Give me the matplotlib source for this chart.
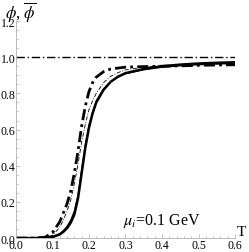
import numpy as np
import matplotlib
matplotlib.use("Agg")
import matplotlib.pyplot as plt
from matplotlib.ticker import MultipleLocator, FormatStrFormatter

# temperature grid (GeV)
T = [0.0, 0.05, 0.08, 0.10, 0.12, 0.13, 0.14, 0.15, 0.16, 0.17, 0.18, 0.19, 0.20,
     0.21, 0.22, 0.24, 0.26, 0.28, 0.30, 0.35, 0.40, 0.45, 0.50, 0.55, 0.60]

# thick solid
phi = [0.0, 0.0, 0.002, 0.006, 0.02, 0.035, 0.055, 0.085, 0.13, 0.22, 0.36, 0.50, 0.61,
       0.69, 0.75, 0.82, 0.865, 0.893, 0.912, 0.935, 0.950, 0.959, 0.965, 0.969, 0.972]
# thin solid
phibar = [0.0, 0.0, 0.003, 0.008, 0.025, 0.042, 0.065, 0.10, 0.15, 0.24, 0.38, 0.52, 0.625,
          0.70, 0.76, 0.825, 0.865, 0.89, 0.908, 0.93, 0.944, 0.952, 0.958, 0.962, 0.965]
# thick dash-dot
phi_dd = [0.0, 0.0, 0.005, 0.03, 0.09, 0.14, 0.19, 0.26, 0.36, 0.48, 0.62, 0.73, 0.81,
          0.86, 0.89, 0.92, 0.935, 0.94, 0.945, 0.948, 0.950, 0.952, 0.955, 0.957, 0.958]
# thin dash-dot
phibar_dd = [0.0, 0.0, 0.004, 0.015, 0.06, 0.10, 0.15, 0.21, 0.30, 0.41, 0.53, 0.63, 0.71,
             0.76, 0.80, 0.86, 0.895, 0.915, 0.93, 0.945, 0.952, 0.956, 0.96, 0.963, 0.965]

plt.rcParams['font.family'] = ['Liberation Serif', 'DejaVu Serif']
plt.rcParams['mathtext.fontset'] = 'stix'

fig = plt.figure(figsize=(2.49, 2.53), dpi=100)
ax = fig.add_axes([0.064, 0.055, 0.88, 0.858])

ax.axhline(1.0, color='black', lw=1.0, dashes=(6, 2, 1, 2))
ax.plot(T, phibar_dd, color='black', lw=0.6, dashes=(5, 2, 1, 2))
ax.plot(T, phi_dd, color='black', lw=2.0, dashes=(4, 1.5, 1, 1.5))
ax.plot(T, phibar, color='black', lw=0.8)
ax.plot(T, phi, color='black', lw=1.8)

ax.set_xlim(0, 0.6)
ax.set_ylim(0, 1.2)
for s in ['top', 'right']:
    ax.spines[s].set_visible(False)
for s in ['left', 'bottom']:
    ax.spines[s].set_color('#b0b0b0')
    ax.spines[s].set_linewidth(0.6)
ax.xaxis.set_major_locator(MultipleLocator(0.1))
ax.xaxis.set_minor_locator(MultipleLocator(0.02))
ax.yaxis.set_major_locator(MultipleLocator(0.2))
ax.yaxis.set_minor_locator(MultipleLocator(0.05))
ax.tick_params(which='both', direction='in', color='#b0b0b0', width=0.5,
               labelsize=8.5, pad=0.5)
ax.tick_params(which='major', length=3)
ax.tick_params(which='minor', length=1.5)
ax.xaxis.set_major_formatter(FormatStrFormatter('%.1f'))
ax.yaxis.set_major_formatter(FormatStrFormatter('%.1f'))

fig.text(0.02, 0.995, r'$\phi$, $\overline{\phi}$', fontsize=12, va='top', ha='left')
fig.text(0.95, 0.055, 'T', fontsize=11, va='bottom', ha='left')
ax.text(0.40, 0.1, r'$\mu_i$=0.1 GeV', fontsize=11.5, ha='center', va='center')

fig.savefig('out.png', dpi=100)
